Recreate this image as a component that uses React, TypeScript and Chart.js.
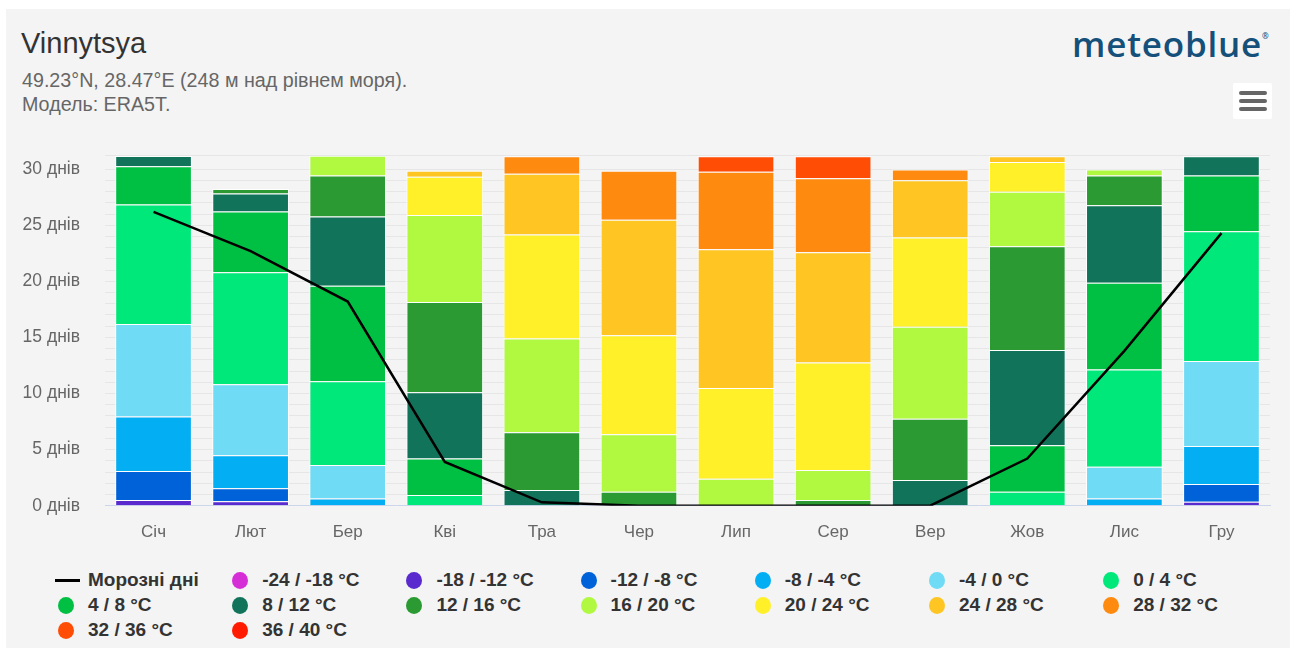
import React, { useEffect, useRef } from 'react';
import { Chart, registerables } from 'chart.js';

Chart.register(...registerables);

// ---------- DATA ----------
const months = ['Січ', 'Лют', 'Бер', 'Кві', 'Тра', 'Чер', 'Лип', 'Сер', 'Вер', 'Жов', 'Лис', 'Гру'];

const frostLabel = 'Морозні дні';
const frostDays = [26.2, 22.7, 18.2, 3.9, 0.3, 0, 0, 0, 0, 4.2, 13.8, 24.3];

const rangeLabels = [
  '-24 / -18 °C', '-18 / -12 °C', '-12 / -8 °C', '-8 / -4 °C', '-4 / 0 °C', '0 / 4 °C',
  '4 / 8 °C', '8 / 12 °C', '12 / 16 °C', '16 / 20 °C', '20 / 24 °C', '24 / 28 °C',
  '28 / 32 °C', '32 / 36 °C', '36 / 40 °C',
];
const rangeColors = [
  '#d62ed6', '#5a2acf', '#0062d8', '#04aef3', '#6fdbf5', '#00e87a',
  '#00c044', '#11745a', '#2b9a33', '#b0f940', '#fff02a', '#ffc623',
  '#ff8a10', '#ff4d05', '#ff1a00',
];

const daysM24toM18 = [0, 0, 0, 0, 0, 0, 0, 0, 0, 0, 0, 0];
const daysM18toM12 = [0.5, 0.39, 0, 0, 0, 0, 0, 0, 0, 0, 0, 0.36];
const daysM12toM8 = [2.6, 1.16, 0, 0, 0, 0, 0, 0, 0, 0, 0, 1.57];
const daysM8toM4 = [4.86, 2.94, 0.65, 0, 0, 0, 0, 0, 0, 0, 0.65, 3.4];
const daysM4to0 = [8.24, 6.34, 2.98, 0, 0, 0, 0, 0, 0, 0, 2.83, 7.56];
const days0to4 = [10.65, 9.97, 7.47, 0.95, 0, 0, 0, 0, 0, 1.25, 8.66, 11.57];
const days4to8 = [3.4, 5.42, 8.5, 3.25, 0, 0, 0, 0, 0, 4.14, 7.74, 4.97];
const days8to12 = [0.92, 1.61, 6.17, 5.92, 1.4, 0, 0, 0, 2.29, 8.48, 6.91, 1.73];
const days12to16 = [0, 0.41, 3.66, 8.03, 5.15, 1.25, 0, 0.5, 5.45, 9.26, 2.64, 0];
const days16to20 = [0, 0, 1.77, 7.77, 8.35, 5.12, 2.41, 2.68, 8.21, 4.85, 0.54, 0];
const days20to24 = [0, 0, 0, 3.4, 9.27, 8.83, 8.09, 9.59, 7.95, 2.65, 0, 0];
const days24to28 = [0, 0, 0, 0.53, 5.43, 10.28, 12.36, 9.82, 5.12, 0.53, 0, 0];
const days28to32 = [0, 0, 0, 0, 1.56, 4.37, 6.9, 6.61, 0.95, 0, 0, 0];
const days32to36 = [0, 0, 0, 0, 0, 0, 1.4, 1.96, 0, 0, 0, 0];
const days36to40 = [0, 0, 0, 0, 0, 0, 0, 0, 0, 0, 0, 0];

const rangeValues = [
  daysM24toM18, daysM18toM12, daysM12toM8, daysM8toM4, daysM4to0, days0to4,
  days4to8, days8to12, days12to16, days16to20, days20to24, days24to28,
  days28to32, days32to36, days36to40,
];

const yMin = 0;
const yMax = 31.2;
const yStep = 1;
const yLabelEvery = 5;
const yUnit = 'днів';

const titleText = 'Vinnytsya';
const subtitle1 = '49.23°N, 28.47°E (248 м над рівнем моря).';
const subtitle2 = 'Модель: ERA5T.';
const logoText = 'meteoblue';

// ---------- STYLE ----------
const FONT = '"Liberation Sans", Arial, Helvetica, sans-serif';
const CANVAS_TOP = 140;
const CANVAS_W = 1295;
const CANVAS_H = 410;
const LEGEND_TEXT_X0 = 88;
const LEGEND_COL_STEP = 174.2;
const LEGEND_ROW_Y0 = 580;
const LEGEND_ROW_STEP = 25;
const LEGEND_COLS = 7;

export default function App() {
  const canvasRef = useRef<HTMLCanvasElement | null>(null);

  useEffect(() => {
    const canvas = canvasRef.current;
    if (!canvas) return;
    const chart = new Chart(canvas, {
      type: 'bar',
      data: {
        labels: months,
        datasets: [
          {
            type: 'line',
            label: frostLabel,
            data: frostDays,
            borderColor: '#000000',
            backgroundColor: '#000000',
            borderWidth: 2.5,
            pointRadius: 0,
            pointHoverRadius: 0,
            fill: false,
            tension: 0,
            order: 0,
            stack: 'frost',
          } as any,
          ...rangeLabels.map((label, i) => ({
            type: 'bar' as const,
            label,
            data: rangeValues[i],
            backgroundColor: rangeColors[i],
            borderColor: '#ffffff',
            borderWidth: 1,
            order: 1,
            stack: 'temp',
            barPercentage: 0.79,
            categoryPercentage: 1,
          })),
        ],
      },
      options: {
        responsive: false,
        maintainAspectRatio: false,
        animation: false,
        devicePixelRatio: 1,
        layout: { padding: { left: 0, right: 25, top: 15.7, bottom: 0 } },
        plugins: {
          legend: { display: false },
          tooltip: { enabled: false },
        },
        scales: {
          x: {
            stacked: true,
            grid: { display: false },
            border: { display: true, color: '#ccd6eb', width: 1 },
            ticks: {
              color: '#666666',
              font: { family: FONT, size: 17 },
              padding: 8,
            },
            afterFit: (s: any) => {
              s.height = 44.3;
            },
          },
          y: {
            stacked: true,
            min: yMin,
            max: yMax,
            border: { display: false },
            grid: {
              color: (c: any) => (c.tick && c.tick.value === 0 ? 'rgba(0,0,0,0)' : '#e6e6e6'),
              drawTicks: false,
              lineWidth: 1,
            },
            ticks: {
              stepSize: yStep,
              autoSkip: false,
              padding: 25,
              color: '#666666',
              font: { family: FONT, size: 17.5 },
              callback: (v: any) => {
                const n = Number(v);
                return Math.abs(n % yLabelEvery) < 1e-9 ? `${n} ${yUnit}` : '';
              },
            },
            afterFit: (s: any) => {
              s.width = 105;
              s.paddingTop = 0;
              s.paddingBottom = 0;
            },
          },
        },
      },
    });
    return () => chart.destroy();
  }, []);

  const legendItems = [
    { label: frostLabel, color: '#000000', line: true },
    ...rangeLabels.map((l, i) => ({ label: l, color: rangeColors[i], line: false })),
  ];

  return (
    <div style={{ position: 'absolute', left: 0, top: 0, width: 1295, height: 648, background: '#ffffff', overflow: 'hidden' }}>
      <div style={{ position: 'absolute', left: 6, top: 9, width: 1284, height: 639, background: '#f4f4f4' }} />
      <div style={{ position: 'absolute', left: 21, top: 29, fontFamily: FONT, fontSize: 29, lineHeight: '29px', color: '#333333', whiteSpace: 'nowrap' }}>
        {titleText}
      </div>
      <div style={{ position: 'absolute', left: 22, top: 68, fontFamily: FONT, fontSize: 19.7, lineHeight: '24px', color: '#666666', whiteSpace: 'nowrap' }}>
        <div>{subtitle1}</div>
        <div>{subtitle2}</div>
      </div>
      <div style={{ position: 'absolute', left: 1072, top: 21, fontFamily: '"Open Sans", sans-serif', fontWeight: 600, fontSize: 35, lineHeight: '46px', color: '#15507a', whiteSpace: 'nowrap', letterSpacing: 0.8 }}>
        {logoText}
        <span style={{ fontSize: 8, verticalAlign: 'top', position: 'relative', top: -8, marginLeft: 0 }}>®</span>
      </div>
      <div style={{ position: 'absolute', left: 1233, top: 83, width: 39, height: 36, background: '#ffffff', borderRadius: 2 }}>
        {[0, 1, 2].map((k) => (
          <div key={k} style={{ position: 'absolute', left: 6, top: 8 + k * 8.2, width: 28, height: 4, borderRadius: 2, background: '#666666' }} />
        ))}
      </div>
      <canvas
        ref={canvasRef}
        width={CANVAS_W}
        height={CANVAS_H}
        style={{ position: 'absolute', left: 0, top: CANVAS_TOP, width: CANVAS_W, height: CANVAS_H }}
      />
      {legendItems.map((it, i) => {
        const col = i % LEGEND_COLS;
        const row = Math.floor(i / LEGEND_COLS);
        const tx = LEGEND_TEXT_X0 + col * LEGEND_COL_STEP;
        const cy = LEGEND_ROW_Y0 + row * LEGEND_ROW_STEP;
        return (
          <div key={i}>
            {it.line ? (
              <div style={{ position: 'absolute', left: tx - 33, top: cy - 1.5, width: 25, height: 3, background: it.color }} />
            ) : (
              <div style={{ position: 'absolute', left: tx - 30, top: cy - 8.5, width: 16, height: 17, borderRadius: '50%', background: it.color }} />
            )}
            <div style={{ position: 'absolute', left: tx, top: cy - 11, fontFamily: FONT, fontSize: 19, fontWeight: 700, lineHeight: '22px', color: '#333333', whiteSpace: 'nowrap' }}>
              {it.label}
            </div>
          </div>
        );
      })}
    </div>
  );
}
